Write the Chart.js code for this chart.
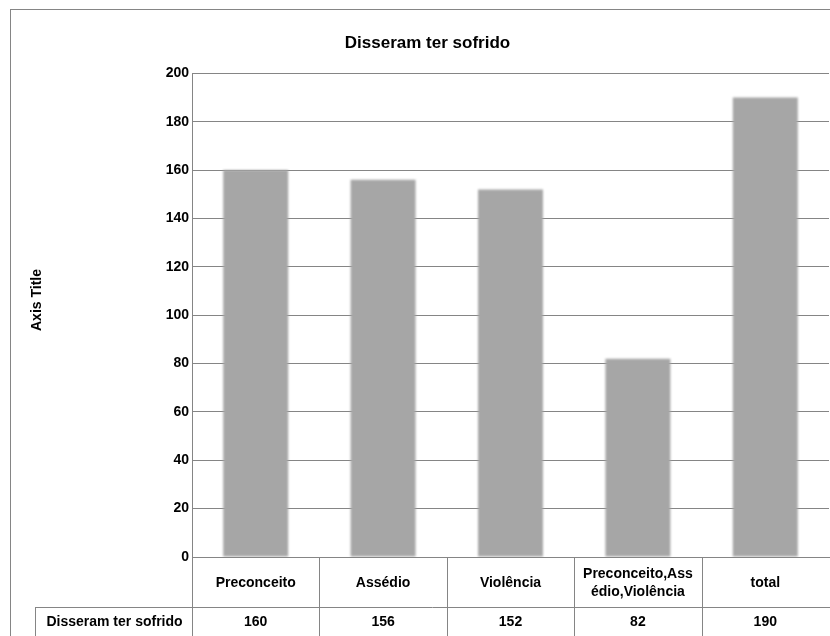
<!DOCTYPE html>
<html>
<head>
<meta charset="utf-8">
<script src="https://cdn.jsdelivr.net/npm/chart.js@4"></script>
<style>
  html, body { margin: 0; padding: 0; background: #fff; }
  #wrap { width: 830px; height: 636px; }
</style>
</head>
<body>
<div id="wrap"><canvas id="bar-chart" width="830" height="636"></canvas></div>
<script>
// data
const categories = ['Preconceito', 'Assédio', 'Violência', ['Preconceito,Ass', 'édio,Violência'], 'total'];
const seriesName = 'Disseram ter sofrido';
const values = [160, 156, 152, 82, 190];
const yTicks = [0, 20, 40, 60, 80, 100, 120, 140, 160, 180, 200];

var font = "'Liberation Sans', Arial, sans-serif";
var lineColor = '#858585';

// bars get a soft edge like the original
var softBars = {
  id: 'softBars',
  beforeDatasetsDraw: function(chart) {
    chart.ctx.save();
    chart.ctx.filter = 'blur(1.2px)';
  },
  afterDatasetsDraw: function(chart) {
    chart.ctx.restore();
  }
};

// data table under the plot + outer frame
var dataTable = {
  id: 'dataTable',
  afterDraw: function(chart) {
    var c = chart.ctx;
    var x = chart.scales.x;
    var area = chart.chartArea;
    var rowTop = 607, bottom = chart.height;
    c.save();
    c.strokeStyle = lineColor;
    c.lineWidth = 1;

    // outer frame
    c.strokeRect(10.5, 9.5, 1000, 1000);

    c.beginPath();
    // column borders
    for (var i = 0; i < values.length - 1; i++) {
      var bx = Math.round((x.getPixelForValue(i) + x.getPixelForValue(i + 1)) / 2) + 0.5;
      c.moveTo(bx, area.bottom);
      c.lineTo(bx, bottom);
    }
    var lx = Math.round(area.left) + 0.5;
    c.moveTo(lx, area.bottom);
    c.lineTo(lx, bottom);
    // data row
    c.moveTo(35, rowTop + 0.5);
    c.lineTo(chart.width, rowTop + 0.5);
    c.moveTo(35.5, rowTop);
    c.lineTo(35.5, bottom);
    c.stroke();

    c.fillStyle = '#000';
    c.font = 'bold 14px ' + font;
    c.textAlign = 'center';
    c.textBaseline = 'middle';

    // category row, each label centred in its cell
    var midCat = (area.bottom + rowTop) / 2 + 1;
    categories.forEach(function(lab, i) {
      var lines = Array.isArray(lab) ? lab : [lab];
      var y0 = midCat - (lines.length - 1) * 9;
      lines.forEach(function(t, k) {
        c.fillText(t, x.getPixelForValue(i), y0 + k * 18);
      });
    });

    var ty = rowTop + 15;
    c.fillText(seriesName, (35 + area.left) / 2 + 1, ty);
    values.forEach(function(v, i) {
      c.fillText(String(v), x.getPixelForValue(i), ty);
    });

    // axis title
    c.font = 'bold 14px ' + font;
    c.translate(37, 300);
    c.rotate(-Math.PI / 2);
    c.fillText('Axis Title', 0, 0);
    c.restore();
  }
};

var ctx = document.getElementById('bar-chart');
var chart = new Chart(ctx, {
  type: 'bar',
  data: {
    labels: categories,
    datasets: [{
      label: seriesName,
      data: values,
      backgroundColor: '#a6a6a6',
      borderWidth: 0,
      categoryPercentage: 1,
      barPercentage: 0.51
    }]
  },
  options: {
    responsive: false,
    animation: false,
    layout: { padding: { left: 26, right: 1, top: 0, bottom: 0 } },
    plugins: {
      legend: { display: false },
      tooltip: { enabled: false },
      title: {
        display: true,
        text: 'Disseram ter sofrido',
        color: '#000',
        font: { family: font, size: 17, weight: 'bold' },
        padding: { top: 33, bottom: 20 }
      }
    },
    scales: {
      x: {
        offset: true,
        grid: { display: false, drawTicks: false },
        border: { display: true, color: lineColor },
        ticks: { display: false },
        afterFit: function(scale) { scale.height = 79; }
      },
      y: {
        min: 0,
        max: 200,
        z: 1,
        afterBuildTicks: function(scale) {
          scale.ticks = yTicks.map(function(v) { return { value: v }; });
        },
        grid: { color: lineColor, drawTicks: false },
        border: { display: true, color: lineColor },
        ticks: {
          color: '#000',
          font: { family: font, size: 14, weight: 'bold' },
          padding: 3
        },
        afterFit: function(scale) { scale.width = 166; }
      }
    }
  },
  plugins: [softBars, dataTable]
});
</script>
</body>
</html>
